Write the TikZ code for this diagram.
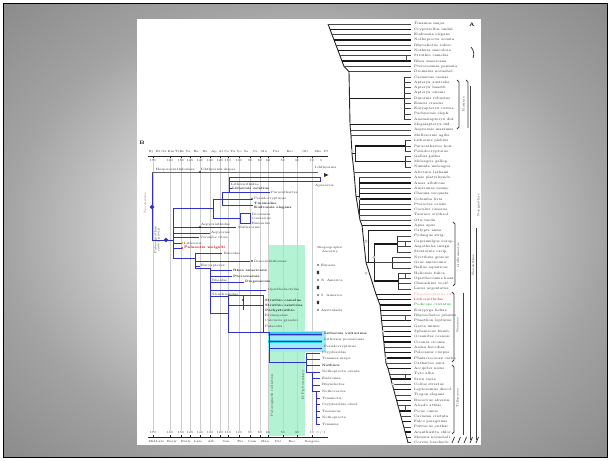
\documentclass[tikz,border=0pt]{standalone}
\usepackage{fontspec}
\definecolor{bcol}{RGB}{50,50,195}
\definecolor{greenbg}{RGB}{180,242,212}
\definecolor{cyanbar}{RGB}{50,200,240}
\definecolor{cyanlt}{RGB}{160,232,250}
\definecolor{olive}{RGB}{150,130,40}
\pgfdeclareradialshading{slidebg}{\pgfpoint{0bp}{0bp}}{color(0bp)=(white); color(5bp)=(white!94!black); color(14bp)=(black!18); color(25bp)=(black!36); color(36bp)=(black!46); color(50bp)=(black!46)}
\tikzset{
 tl/.style={draw=gray!55!black, line width=0.6pt},
 tb/.style={draw=black!90, line width=1.25pt},
 bb/.style={draw=black!85, line width=0.9pt},
 oc/.style={draw=gray!70, fill=white, line width=0.4pt},
 brk/.style={draw=gray!50!black, line width=0.8pt},
 gridln/.style={draw=gray!40, line width=0.35pt},
 axisln/.style={draw=black!85, line width=0.6pt},
 bl/.style={draw=bcol, line width=0.75pt},
 lblA/.style={font=\fontsize{3.4}{3.6}\selectfont, text=black!85, inner sep=0pt, anchor=west},
 lblB/.style={font=\fontsize{3.2}{3.4}\selectfont, text=black!85, inner sep=0pt, anchor=west},
 lblBb/.style={font=\fontsize{3.2}{3.4}\selectfont\bfseries, text=black!90, inner sep=0pt, anchor=west},
 rot/.style={font=\fontsize{3.2}{3.4}\selectfont, text=black!80, inner sep=0pt, rotate=90},
 tick/.style={font=\fontsize{3}{3.2}\selectfont, text=black!85, inner sep=0pt},
}
\begin{document}
\begin{tikzpicture}[x=1bp,y=-1bp, declare function={Y(\k)=24+5.3*\k;}]
\useasboundingbox (0,0) rectangle (611,461);
% slide background
\fill[white] (0,0) rectangle (611,461);
\shade[shading=slidebg] (4,4) rectangle (607,457);
\draw[black, line width=1.6pt] (3.5,3.5) rectangle (607.5,457.5);
% white panel
\fill[white] (137,19) rectangle (481,445);

% ================= TREE A =================
\node[font=\fontsize{5}{5}\selectfont\bfseries, inner sep=0pt] (labA) at (472,25) {A};
% backbone
\draw[bb] (328,{Y(0)}) -- (344,{Y(8)}) -- (349,{Y(9)}) -- (350,{Y(19)}) -- (351,{Y(21)}) -- (352,{Y(24.5)}) -- (354,{Y(28)}) -- (356,{Y(32.5)}) -- (360,{Y(37)}) -- (362,{Y(38)}) -- (366,{Y(45)}) -- (376,{Y(51)}) -- (378,{Y(52)}) -- (380,{Y(53)}) -- (386,{Y(64)}) -- (388,{Y(65)}) -- (408,{Y(79)});
% section 1
\foreach \i/\bx in {0/328,2/332,4/336,6/340,8/344} \draw[tl] (\bx,{Y(\i)}) -- (411,{Y(\i)});
\foreach \i/\bx in {1/330,3/334,5/338,7/342} \draw[tb] (\bx,{Y(\i)}) -- (411,{Y(\i)});
\draw[tl] (406,{Y(6)}) -- (406,{Y(7)});
% section 2
\draw[tl] (349,{Y(9)}) -- (411,{Y(9)});
\draw[tb] (349.5,{Y(14)}) -- (404,{Y(14)});
\draw[bb] (404,{Y(10)}) -- (404,{Y(18)});
\foreach \i in {10,...,18} \draw[tl] (404,{Y(\i)}) -- (411,{Y(\i)});
\draw[tb] (350,{Y(19)}) -- (411,{Y(19)});
\draw[tl] (350,{Y(20)}) -- (411,{Y(20)});
\draw[tl] (351,{Y(21)}) -- (411,{Y(21)});
% section 4
\draw[bb] (352,{Y(24.5)}) -- (355,{Y(24.5)});
\draw[bb] (355,{Y(23)}) -- (355,{Y(26)});
\draw[tb] (355,{Y(23)}) -- (405,{Y(23)});
\draw[tb] (355,{Y(26)}) -- (405,{Y(26)});
\draw[bb] (405,{Y(22)}) -- (405,{Y(24)});
\draw[bb] (405,{Y(25)}) -- (405,{Y(27)});
\foreach \i in {22,...,27} \draw[tl] (405,{Y(\i)}) -- (411,{Y(\i)});
\draw[tl] (354,{Y(28)}) -- (411,{Y(28)});
% section 6
\draw[bb] (356,{Y(32.5)}) -- (359,{Y(32.5)});
\draw[bb] (359,{Y(29)}) -- (359,{Y(36)});
\foreach \i in {30,32,33,35} \draw[tb] (359,{Y(\i)}) -- (411,{Y(\i)});
\foreach \i in {29,31,34,36} \draw[tl] (359,{Y(\i)}) -- (411,{Y(\i)});
\draw[tl] (360,{Y(37)}) -- (411,{Y(37)});
\draw[tb] (362,{Y(38)}) -- (411,{Y(38)});
% section 8
\draw[bb] (366,{Y(45)}) -- (368,{Y(45)});
\draw[bb] (368,{Y(39)}) -- (368,{Y(45)});
\draw[tb] (368,{Y(39)}) -- (411,{Y(39)});
\draw[bb] (368,{Y(45)}) -- (374,{Y(45)});
\draw[bb] (374,{Y(41.5)}) -- (374,{Y(48.5)});
\draw[tb] (374,{Y(41.5)}) -- (397,{Y(41.5)});
\draw[bb] (397,{Y(40)}) -- (397,{Y(43)});
\foreach \i in {40,...,43} \draw[tl] (397,{Y(\i)}) -- (411,{Y(\i)});
\draw[tl] (374,{Y(45)}) -- (392,{Y(45)});
\draw[bb] (392,{Y(44)}) -- (392,{Y(46)});
\foreach \i in {44,45,46} \draw[tl] (392,{Y(\i)}) -- (411,{Y(\i)});
\draw[tb] (374,{Y(48.5)}) -- (398,{Y(48.5)});
\draw[bb] (398,{Y(47)}) -- (398,{Y(50)});
\foreach \i in {47,...,50} \draw[tl] (398,{Y(\i)}) -- (411,{Y(\i)});
\draw[tl] (405,{Y(41)}) -- (405,{Y(42)});
\draw[tl] (405,{Y(47)}) -- (405,{Y(48)});
% section 9
\draw[tb] (376,{Y(51)}) -- (411,{Y(51)});
\draw[tb] (378,{Y(52)}) -- (411,{Y(52)});
% section 10
\foreach \i/\bx in {53/380,54/380.5,56/381.6,58/382.7,59/383.3,60/383.8,62/384.9,63/385.5,65/388,67/390.9,69/393.7,71/396.6,73/399.4,75/402.3,77/405.1} \draw[tb] (\bx,{Y(\i)}) -- (411,{Y(\i)});
\foreach \i/\bx in {55/381,57/382.2,61/384.4,64/386,66/389.4,68/392.3,70/395.1,72/398,74/400.9,76/403.7,78/406.6,79/408} \draw[tl] (\bx,{Y(\i)}) -- (411,{Y(\i)});
\foreach \i in {55,66,72} \draw[tl] (405,{Y(\i)}) -- (405,{Y(\i+1)});
% open node circles
\foreach \xx/\i in {366/41,366/47,374/44,383/58,386/63,393/68,352/24,359/33} \draw[oc] (\xx,{Y(\i)}) circle (1.3);
% labels A
\foreach \nm [count=\k from 0] in {Tinamus major,Crypturellus undul.,Eudromia elegans,Nothoprocta ornata,Rhynchotus rufesc.,Nothura maculosa,Struthio camelus,Rhea americana,Pterocnemia pennata,Dromaius novaehol.,Casuarius casuar.,Apteryx australis,Apteryx haastii,Apteryx owenii,Dinornis robustus,Emeus crassus,Euryapteryx curtus,Pachyornis eleph.,Anomalopteryx did.,Megalapteryx did.,Aepyornis maximus,Mullerornis agilis,Lithornis plebius,Paracathartes how.,Pseudocrypturus,Gallus gallus,Meleagris gallop.,Numida meleagris,Alectura lathami,Anas platyrhynch.,Anser albifrons,Anseranas semip.,Chauna torquata,Columba livia,Pterocles orient.,Cuculus canorus,Tauraco erythrol.,Otis tarda,Apus apus,Calypte anna,Podargus strig.,Caprimulgus europ.,Aegotheles insign.,Steatornis carip.,Nyctibius griseus,Grus americana,Rallus aquaticus,Heliornis fulica,Opisthocomus hoaz.,Charadrius vocif.,Larus argentatus}
  \node[lblA] (a\k) at (414,{Y(\k)}) {\nm};
\node[lblA, text=red!45] (a51) at (414,{Y(51)}) {Phoenicopterus rub.};
\node[lblA, text=red!85!black] (a52) at (414,{Y(52)}) {Lithornithidae};
\node[lblA, text=green!50!black] (a53) at (414,{Y(53)}) {Podiceps cristatus};
\foreach \nm [count=\k from 54] in {Eurypyga helias,Rhynochetos jubatus,Phaethon lepturus,Gavia immer,Spheniscus humb.,Oceanites oceanic.,Ciconia ciconia,Ardea herodias,Pelecanus crispus,Phalacrocorax carbo,Cathartes aura,Accipiter nisus,Tyto alba,Strix varia,Colius striatus,Leptosomus discol.,Trogon elegans,Bucorvus abyssin.,Alcedo atthis,Picus canus,Cariama cristata,Falco peregrinus,Psittacus erithac.,Acanthisitta chlor.,Menura novaeholl.,Corvus brachyrh.}
  \node[lblA] (a\k) at (414,{Y(\k)}) {\nm};
% brackets A
\draw[brk] (471,47) to[bend left=30] (473,58);
\draw[brk] (457,80) -- (459,82) -- (459,127) -- (457,129);
\draw[brk] (466,80) -- (468,82) -- (468,128);
\draw[brk] (470,86) -- (470,440);
\draw[brk] (476,228) -- (476,440);
\draw[brk] (453,222) -- (455,224) -- (455,284) -- (453,286);
\draw[brk] (452,292) -- (454,294) -- (454,360) -- (452,362);
\draw[brk] (463,293) -- (463,435);
\draw[brk] (452,365) -- (454,367) -- (454,432) -- (452,434);
\foreach \x in {452,458,464,470,476} \draw[brk] (\x,443) -- (\x+2.5,437);
\node[rot] (rA1) at (463.5,104) {Ratitae};
\node[rot] (rA2) at (478.5,205) {Neognathae};
\node[rot] (rA3) at (458,255) {Galloanserae};
\node[rot] (rA4) at (457.5,325) {Neoaves};
\node[rot] (rA5) at (457.5,398) {Telluraves};
\node[rot] (rA6) at (473,265) {Neornithes};

% ================= TREE B =================
\node[font=\fontsize{5}{5}\selectfont\bfseries, inner sep=0pt] (labB) at (142,143) {B};
\fill[greenbg] (268,245) rectangle (305,436);
\foreach \x in {153,170,181,190,200,210,220,228,239,250,260,268,283,297,312} \draw[gridln] (\x,158) -- (\x,431);
% axes
\draw[axisln] (148,156) -- (328,156);
\draw[axisln] (148,437) -- (328,437);
\foreach \x/\n in {153/170,170/160,181/150,190/145,200/140,210/130,220/120,228/110,239/100,250/90,260/80,268/66,283/50,297/30,312/10} {
  \draw[axisln] (\x,156) -- (\x,158.5);
  \draw[axisln] (\x,437) -- (\x,434.8);
  \node[tick] (tt\x) at (\x,160.8) {\n};
  \node[tick] (tb\x) at (\x,432.5) {\n};
}
\node[tick] (tt0) at (321,160.8) {0};
\node[tick] (tb0) at (321,432.5) {0 / 1};
\foreach \x/\t in {151/Bj,158/Bt,164/Ox,171/Km,177/Ti,185/Be Va,196/Ha,205/Ba,214/Ap,224/Al Ce,236/Tu Co,246/Sa,255/Ca,264/Ma,276/Pal,290/Eoc,305/Oli,318/Mio,326/Pl}
  \node[tick] (tp\x) at (\x,151.5) {\t};
\foreach \x/\t in {152/Mid,160/Late,172/Early,186/Early,198/Late,211/Alb,226/Cen,240/Tur,252/Cam,265/Maa,278/Pal,292/Eoc,312/Neogene}
  \node[tick] (bp\x) at (\x,441.5) {\t};
% blue tree
\draw[bl] (152,172) -- (152,240);
\draw[draw=black!60, line width=0.5pt] (152,172) -- (318,172);
\fill[black] (200,172) circle (0.9);
\fill[black!80] (324,173) -- (328.5,175) -- (324,177) -- cycle;
\draw[bl] (229,177) -- (320,177) -- (320,181) -- (229,181);
\draw[bl] (229,177) -- (229,192);
\draw[bl] (229,188.5) -- (232,188.5);
\draw[bl] (222,192) -- (270,192);
\draw[bl] (222,192) -- (222,205);
\draw[bl] (222,199) -- (252,199);
\fill (252,199) circle (0.9);
\draw[bl] (222,205) -- (253,205);
\draw[bl] (213,199) -- (222,199);
\draw[bl] (213,199) -- (213,218);
\draw[bl] (213,218) -- (240,218);
\draw[bl] (240,213) rectangle (250,223);
\draw[bl] (173,208) -- (213,208);
\draw[bl] (173,208) -- (173,258);
\draw[bl] (173,227) -- (236,227);
\fill (200,227) circle (0.9);
\draw[bl] (173,233) -- (210,233);
\draw[bl] (173,237.5) -- (199,237.5);
\draw[bl] (152,240) -- (173,240);
\fill[bcol] (152,204.6) -- (154.4,207) -- (152,209.4) -- (149.6,207) -- cycle;
\fill[bcol] (166,237.6) -- (168.4,240) -- (166,242.4) -- (163.6,240) -- cycle;
\draw[bl] (173,243) -- (182,243);
\fill[orange!70!yellow] (182,243) circle (1);
\draw[bl] (173,248) -- (182,248);
\fill[red] (182,248) circle (1);
\draw[bl] (173,258) -- (195,258);
\draw[bl] (195,253) -- (195,268);
\draw[bl] (195,253) -- (222,253);
\draw[bl] (195,261) -- (250,261);
\fill (252,261) circle (0.9);
\draw[bl] (195,266) -- (200,266);
\draw[bl] (195,268) -- (210,268);
\draw[bl] (210,268) -- (210,313);
\draw[bl] (210,270) -- (232,270);
\draw[bl] (210,276) -- (232,276);
\draw[bl] (210,282) -- (244,282);
\draw[bl] (210,290) -- (266,290);
\draw[bl] (210,296) -- (228,296);
\draw[bl] (228,295) rectangle (263,332);
\draw[bl, line width=1pt] (228,305) -- (263,305);
\draw[bl] (243,295) -- (243,310);
\fill (243,300) circle (0.9);
\draw[bl] (210,313) -- (228,313);
% cyan band
\fill[cyanlt] (268,331) rectangle (326,352);
\fill[cyanbar] (268,332) rectangle (322,336);
\fill[cyanbar] (268,339.5) rectangle (322,343);
\draw[bl] (269,334) -- (322,334);
\draw[bl] (269,341) -- (322,341);
\draw[bl] (269,348.5) -- (322,348.5);
\draw[bl] (263,332) -- (269,332);
\draw[bl] (269,332) -- (269,362);
\draw[bl] (269,362) -- (306,362);
% lower right clade
\draw[bl] (306,353) -- (306,372);
\foreach \y in {353,359,365.5} \draw[bl] (306,\y) -- (320,\y);
\draw[bl] (306,372) -- (312,372);
\draw[bl] (312,372) -- (312,391.5);
\foreach \y in {378.5,385} \draw[bl] (312,\y) -- (320,\y);
\draw[bl] (312,391.5) -- (316,391.5);
\draw[bl] (316,391.5) -- (316,424);
\foreach \y in {398,404.5,411,417.5,424} \draw[bl] (316,\y) -- (320,\y);
\draw[bl] (312,372) -- (320,372);
\draw[bl] (316,391.5) -- (320,391.5);
% labels B
\foreach \x/\y/\t [count=\k] in {156/169.5/Hesperornithiformes,201/169.5/Ichthyornis dispar,315/168/Ichthyornis,315/186/Apsaravis,231/184.5/Lithornithidae,271/192/Paracathartes,254/199/Pseudocrypturus,252/214/Dromaius,252/218.5/Casuarius,252/223/Emuarius,201/225/Aepyornithidae,238/227/Mullerornis,211/233/Aepyornis,200/237.5/Vorombe titan,184/243/Lithornis,224/253/Emeidae,254/261/Dinornithiformes,201/266/Euryapteryx,212/280/Rheidae,268/290/Opisthodactylus,212/294/Struthionidae,265/316/Eremopezus,265/321/Calciavis grandei,265/326/Palaeotis,324/340/Lithornis promiscuus,324/346.5/Pseudocrypturus,322/353/Crypturellus,322/359/Tinamus major,322/372/Nothoprocta ornata,322/378.5/Eudromia,322/385/Rhynchotus,322/391.5/Nothocercus,322/398/Tinamotis,322/404.5/Crypturellus obsol.,322/411/Taoniscus,322/417.5/Nothoprocta,322/424/Tinamus}
  \node[lblB] (bn\k) at (\x,\y) {\t};
\foreach \x/\y/\t [count=\k] in {232/188.5/Lithornis celetius,254/203.5/Tinamidae,254/208/Eudromia elegans,233/270/Rhea americana,233/276/Pterocnemia,245/282/Diogenornis,265/300/Struthio camelus,265/305/Struthio asiaticus,265/310.5/Pachystruthio,324/333.5/Lithornis vulturinus,322/365.5/Nothura}
  \node[lblBb] (bb\k) at (\x,\y) {\t};
\node[lblB, text=red!85!black, font=\fontsize{3.6}{3.8}\selectfont\bfseries] (bred) at (184,248) {Palaeotis weigelti};
% rotated labels B
\node[rot, text=olive] (rB1) at (145,203) {Neornithes};
\node[rot] (rB2) at (155.5,240) {Palaeognathae};
\node[rot] (rB3) at (159,240) {crown group};
\node[rot] (rB4) at (272,395) {Palaeognath radiation};
\node[rot] (rB5) at (303,385) {K--Pg boundary};
% legend
\node[tick] (lg1) at (330,247.5) {Biogeographic};
\node[tick] (lg2) at (330,252) {Ancestry};
\foreach \y/\t [count=\k] in {265/Eurasia,280/N. America,295/S. America,310/Australasia} {
  \fill[black!80] (318,\y) circle (0.8);
  \node[lblB] (lge\k) at (321,\y) {\t};
}
\foreach \y in {272.5,287.5,302.5} \fill[black!80, rounded corners=0.5pt] (316.8,\y-1.6) rectangle (319.2,\y+1.6);
\end{tikzpicture}
\end{document}
